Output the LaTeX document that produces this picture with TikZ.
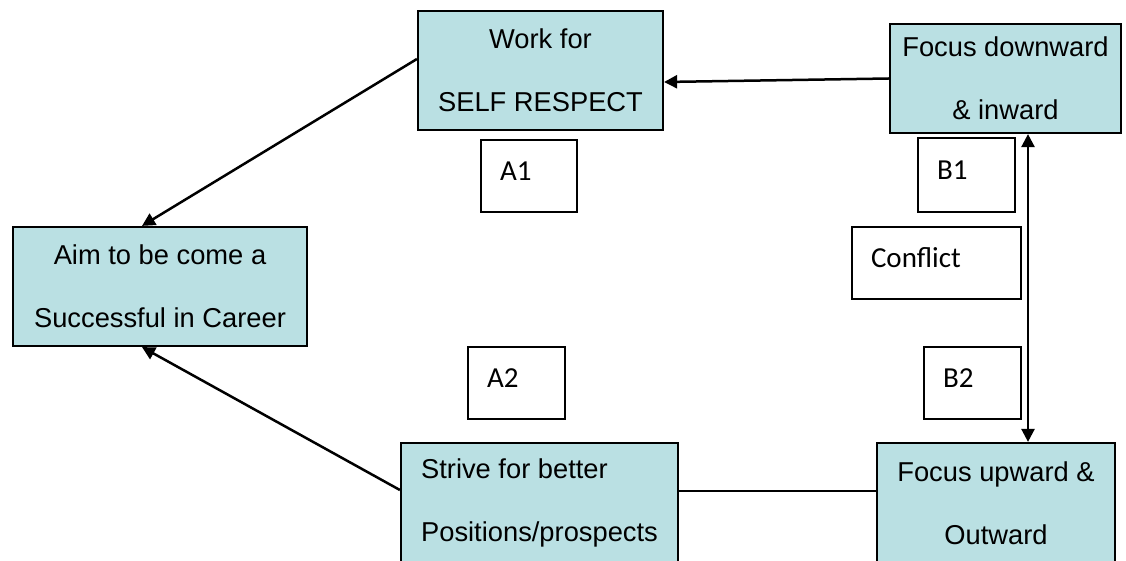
\documentclass[tikz,border=0pt]{standalone}
\usepackage{fontspec}
\setmainfont{Liberation Sans}
\newfontfamily\calibri{Carlito}
\usetikzlibrary{arrows.meta}
\definecolor{boxfill}{RGB}{186,224,227}

\begin{document}
\begin{tikzpicture}[
			x=1pt, y=-1pt,
			cbox/.style={rectangle, line width=2.2pt, fill=boxfill, draw=black,
				align=center, font=\fontsize{27.3}{63}\selectfont},
			tbox/.style={rectangle, line width=2pt, draw=black, inner xsep=19pt,
				text depth=10pt, font=\calibri\fontsize{29}{34}\selectfont},
			aline/.style={line width=2.5pt, draw=black, -{Triangle[length=13pt,width=13pt]}}
		]
			\useasboundingbox (0,0) rectangle (1126,561);
			\clip (0,0) rectangle (1126,561);
			% main boxes
			\node[cbox, minimum width=245, minimum height=119] (work) at (540.5,70.5)
				{Work for\\SELF RESPECT};
			\node[cbox, minimum width=231, minimum height=109] (down) at (1005.5,78.5)
				{Focus downward\\\& inward};
			\node[cbox, minimum width=294, minimum height=119] (aim) at (160,286.5)
				{Aim to be come a\\Successful in Career};
			\node[cbox, align=left, minimum width=277, minimum height=120] (strive) at (539.5,503)
				{Strive for better\\Positions/prospects};
			\node[cbox, minimum width=238, minimum height=120] (up) at (996,503)
				{Focus upward \&\\Outward};
			% small text boxes
			\node[tbox, text width=58, minimum height=72] (a1) at (529,176) {A1};
			\node[tbox, text width=59, minimum height=74] (b1) at (966.5,175) {B1};
			\node[tbox, text width=131, minimum height=72] (conflict) at (936.5,263) {Conflict};
			\node[tbox, text width=59, minimum height=72] (a2) at (516.5,383) {A2};
			\node[tbox, text width=59, minimum height=72] (b2) at (972.5,383) {B2};
			% connectors
			\draw[aline] (down.west) -- ([yshift=-11.5pt]work.east);
			\draw[aline] ([yshift=11.5pt]work.west) -- ([xshift=-18pt]aim.north);
			\draw[aline] ([yshift=13pt]strive.west) -- ([xshift=-18pt]aim.south);
			\draw[line width=2.5pt] ([yshift=12pt]strive.east) -- ([yshift=12pt]up.west);
			\draw[aline, {Triangle[length=13pt,width=13pt]}-{Triangle[length=13pt,width=13pt]}]
				([xshift=22.5pt]down.south) -- ([xshift=32pt]up.north);
		\end{tikzpicture}
\end{document}
